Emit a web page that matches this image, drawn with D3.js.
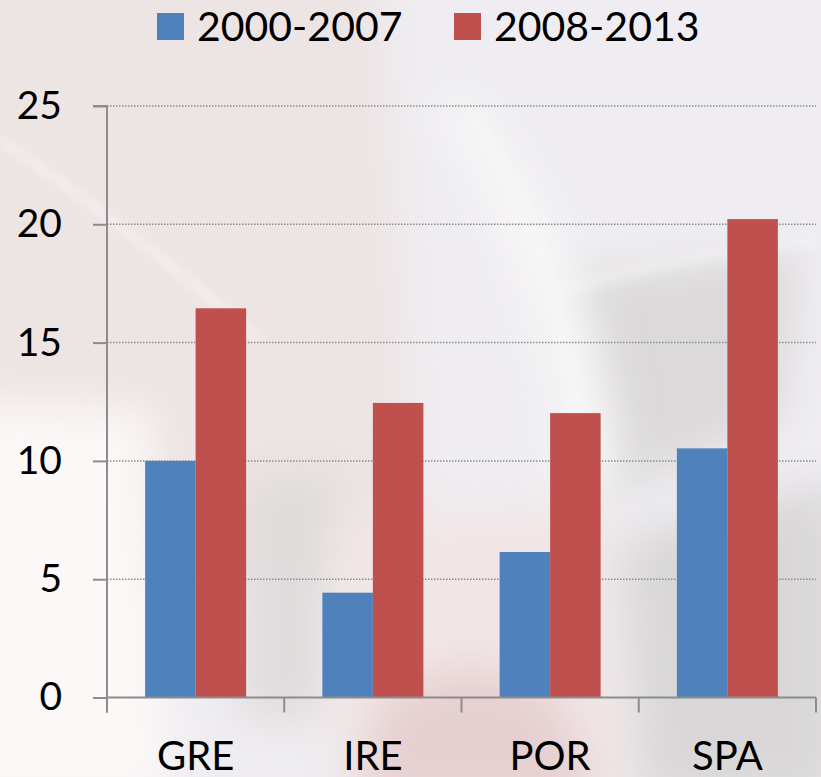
<!DOCTYPE html>
<html>
<head>
<meta charset="utf-8">
<script src="https://cdn.jsdelivr.net/npm/d3@7"></script>
<style>
  html, body { margin: 0; padding: 0; background: #efedf0; }
  svg { display: block; }
</style>
</head>
<body>
<div id="chart"></div>
<script>
// chart data
var categories = ["GRE", "IRE", "POR", "SPA"];
var seriesNames = ["2000-2007", "2008-2013"];
var values2000 = [10.0, 4.43, 6.15, 10.53];
var values2008 = [16.45, 12.45, 12.02, 20.22];
var yTicks = [0, 5, 10, 15, 20, 25];

function init(){

	var w = 821;
	var h = 777;
	var colors = ["#4f81bd", "#c0504d"];
	var font = "Lato, 'Open Sans', sans-serif";

	// plot area
	var left = 107, right = 816, top = 106, bottom = 697.5;

	var svg = d3.select("#chart")
		.append("svg")
		.attr("width", w)
		.attr("height", h);

	// ---------------- faded photo background ----------------
	var defs = svg.append("defs");
	defs.append("filter").attr("id", "blurBig")
		.attr("x", "-30%").attr("y", "-30%").attr("width", "160%").attr("height", "160%")
		.append("feGaussianBlur").attr("stdDeviation", 22);
	defs.append("filter").attr("id", "blurSmall")
		.attr("x", "-30%").attr("y", "-30%").attr("width", "160%").attr("height", "160%")
		.append("feGaussianBlur").attr("stdDeviation", 6);

	var bg = svg.append("g");
	bg.append("rect").attr("width", w).attr("height", h).attr("fill", "#efedf1");

	var blobs = [
		{ d: "M-40,-40 L380,-40 L420,560 L-40,620 Z", fill: "#ede4e4" },
		{ d: "M-40,400 L150,410 L170,800 L-40,800 Z", fill: "#fbf8f7" },
		{ d: "M240,480 L340,470 L330,720 L240,720 Z", fill: "#e0dcdc" },
		{ d: "M340,520 L600,500 L640,800 L330,800 Z", fill: "#f1e6e6" },
		{ d: "M380,700 Q470,640 560,700 L600,800 L360,800 Z", fill: "#e6cfd0" },
		{ d: "M560,280 L800,250 L780,420 L600,500 Z", fill: "#dbd9d9" },
		{ d: "M620,540 L840,480 L840,800 L640,800 Z", fill: "#d9d7d7" },
		{ d: "M430,100 Q560,300 560,500 L620,480 Q600,260 470,100 Z", fill: "#f8f6f6" }
	];
	bg.selectAll("path.blob")
		.data(blobs)
		.enter()
		.append("path")
		.attr("class", "blob")
		.attr("d", function(d){ return d.d; })
		.attr("fill", function(d){ return d.fill; })
		.attr("filter", "url(#blurBig)");

	// light streaks
	var streaks = [
		"M0,140 Q120,220 260,340",
		"M470,110 Q570,260 580,470",
		"M560,290 Q700,250 820,240"
	];
	bg.selectAll("path.streak")
		.data(streaks)
		.enter()
		.append("path")
		.attr("class", "streak")
		.attr("d", function(d){ return d; })
		.attr("fill", "none")
		.attr("stroke", "#fbf9f9")
		.attr("stroke-opacity", 0.55)
		.attr("stroke-width", 8)
		.attr("filter", "url(#blurSmall)");

	// ---------------- scales ----------------
	var x0 = d3.scaleBand()
		.domain(categories)
		.range([left, right])
		.paddingInner(0)
		.paddingOuter(0);

	var x1 = d3.scaleBand()
		.domain(seriesNames)
		.range([0, x0.bandwidth()])
		.paddingInner(0)
		.paddingOuter(0.755);

	var yScale = d3.scaleLinear()
		.domain([0, 25])
		.range([bottom, top]);

	// gridlines
	svg.append("g")
		.selectAll("line")
		.data(yTicks.filter(function(d){ return d > 0; }))
		.enter()
		.append("line")
		.attr("x1", left)
		.attr("x2", right)
		.attr("y1", function(d){ return yScale(d); })
		.attr("y2", function(d){ return yScale(d); })
		.attr("stroke", "#8c8c8c")
		.attr("stroke-width", 1.5)
		.attr("stroke-dasharray", "1.5,1.5");

	// bars
	var rows = categories.map(function(c, i){
		return { cat: c, vals: [values2000[i], values2008[i]] };
	});

	var groups = svg.append("g")
		.selectAll("g")
		.data(rows)
		.enter()
		.append("g")
		.attr("transform", function(d){ return "translate(" + x0(d.cat) + ",0)"; });

	groups.selectAll("rect")
		.data(function(d){
			return d.vals.map(function(v, j){ return { name: seriesNames[j], value: v, j: j }; });
		})
		.enter()
		.append("rect")
		.attr("x", function(d){ return x1(d.name); })
		.attr("y", function(d){ return yScale(d.value); })
		.attr("width", x1.bandwidth())
		.attr("height", function(d){ return yScale(0) - yScale(d.value); })
		.attr("fill", function(d){ return colors[d.j]; });

	// y axis
	var yAxis = d3.axisLeft(yScale)
		.tickValues(yTicks)
		.tickSize(14)
		.tickPadding(31);

	var yg = svg.append("g")
		.attr("transform", "translate(" + left + ",0)")
		.call(yAxis);
	yg.select(".domain").attr("stroke", "#8c8c8c").attr("stroke-width", 2)
		.attr("d", "M-14," + top + "H0V" + (bottom + 15));
	yg.selectAll(".tick line").attr("stroke", "#8c8c8c").attr("stroke-width", 2);
	yg.selectAll(".tick text")
		.attr("font-family", font)
		.attr("font-size", "39px")
		.attr("fill", "#000");

	// x axis
	var xAxis = d3.axisBottom(x0)
		.tickSize(0)
		.tickPadding(44);

	var xg = svg.append("g")
		.attr("transform", "translate(0," + bottom + ")")
		.call(xAxis);
	xg.select(".domain").attr("stroke", "#8c8c8c").attr("stroke-width", 2)
		.attr("d", "M" + left + ",0H" + right);
	xg.selectAll(".tick text")
		.attr("font-family", font)
		.attr("font-size", "40px")
		.attr("fill", "#000");

	// category separators
	var edges = categories.map(function(c){ return x0(c); }).concat([right]);
	xg.selectAll("line.sep")
		.data(edges)
		.enter()
		.append("line")
		.attr("class", "sep")
		.attr("x1", function(d){ return d; })
		.attr("x2", function(d){ return d; })
		.attr("y1", 0)
		.attr("y2", 15)
		.attr("stroke", "#8c8c8c")
		.attr("stroke-width", 2);

	// legend
	var legendX = [157, 454];
	var legend = svg.append("g")
		.selectAll("g")
		.data(seriesNames)
		.enter()
		.append("g")
		.attr("transform", function(d, i){ return "translate(" + legendX[i] + ",13)"; });

	legend.append("rect")
		.attr("width", 27)
		.attr("height", 27)
		.attr("fill", function(d, i){ return colors[i]; });

	legend.append("text")
		.attr("x", 40)
		.attr("y", 28)
		.attr("font-family", font)
		.attr("font-size", "41px")
		.attr("fill", "#000")
		.text(function(d){ return d; });
}
window.onload = init;
</script>
</body>
</html>
